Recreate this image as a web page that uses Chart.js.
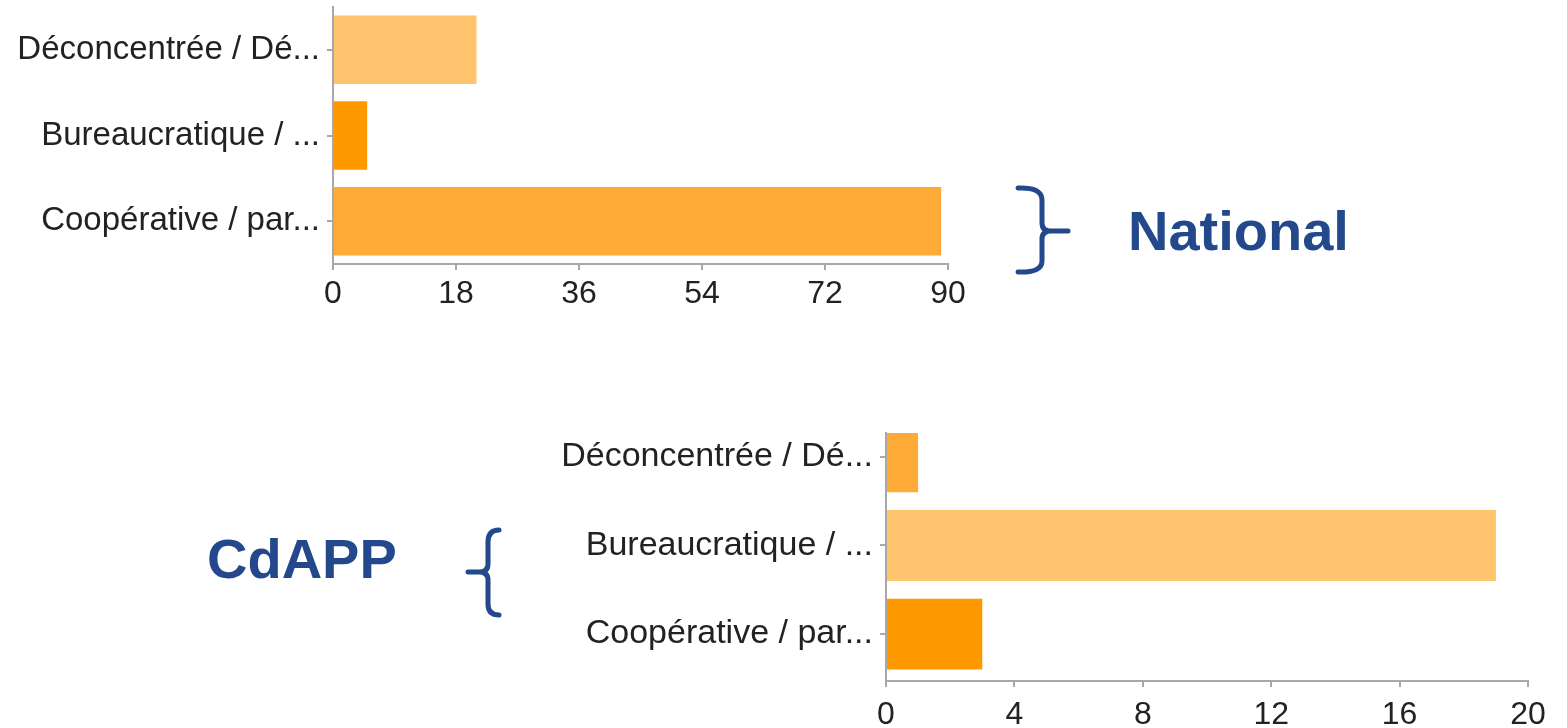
<!DOCTYPE html>
<html>
<head>
<meta charset="utf-8">
<script src="https://cdn.jsdelivr.net/npm/chart.js@4"></script>
<style>
  body { margin: 0; background: #fff; width: 1567px; height: 728px; overflow: hidden; position: relative; }
  canvas { position: absolute; }
  #nationalChart { left: 0; top: 0; }
  #cdappChart { left: 0; top: 400px; }
  .tag { position: absolute; font-family: 'Liberation Sans', Arial, sans-serif; font-weight: bold; font-size: 56px; line-height: 1; color: #24488c; }
  svg { position: absolute; left: 0; top: 0; }
</style>
</head>
<body>
<canvas id="nationalChart" width="1000" height="320"></canvas>
<canvas id="cdappChart" width="1567" height="328"></canvas>
<div class="tag" style="left:1128px; top:203px;">National</div>
<div class="tag" style="left:207px; top:531px;">CdAPP</div>
<svg width="1567" height="728">
  <g fill="none" stroke="#24488c" stroke-width="5" stroke-linecap="round" stroke-linejoin="round">
    <path d="M1018,188 Q1042,187 1042,200 L1042,223 Q1042,231 1051,231 L1068,231 M1051,231 Q1042,231 1042,239 L1042,261 Q1042,273 1018,272"/>
    <path d="M499,530 Q488,530 488,542 L488,564 Q488,572 479,572 L468,572 M479,572 Q488,572 488,580 L488,604 Q488,615 499,615"/>
  </g>
</svg>
<script>
const categories = ['Déconcentrée / Dé...', 'Bureaucratique / ...', 'Coopérative / par...']
const nationalValues = [21, 5, 89]
const cdappValues = [1, 19, 3]
const nationalTicks = [0, 18, 36, 54, 72, 90]
const cdappTicks = [0, 4, 8, 12, 16, 20]
const nationalColors = ['#ffc46e', '#ff9900', '#ffab38']
const cdappColors = ['#ffab38', '#ffc46e', '#ff9900']

const fontFamily = "'Liberation Sans', Arial, Helvetica, sans-serif"
const axisGray = '#a8a8a8'

function valueAxis(ticks, font, pad) {
    return {
        min: ticks[0],
        max: ticks[ticks.length - 1],
        afterBuildTicks: scale => { scale.ticks = ticks.map(v => ({ value: v })) },
        ticks: { color: '#222', font: { family: fontFamily, size: font }, padding: pad, maxRotation: 0 },
        grid: { drawOnChartArea: false, tickLength: 6, color: axisGray, lineWidth: 2 },
        border: { color: axisGray, width: 2 }
    }
}

// fixed label column width, and no extra room for the end labels
function fixWidth(w) {
    return s => { s.width = w; s.paddingTop = 0; s.paddingBottom = 0 }
}

new Chart(document.getElementById('nationalChart'), {
    type: 'bar',
    data: {
        labels: categories,
        datasets: [{
            data: nationalValues,
            backgroundColor: nationalColors,
            categoryPercentage: 0.8,
            barPercentage: 1
        }]
    },
    options: {
        indexAxis: 'y',
        responsive: false,
        animation: false,
        layout: { padding: { top: 7, right: 52 } },
        plugins: { legend: { display: false }, tooltip: { enabled: false } },
        scales: {
            x: Object.assign(valueAxis(nationalTicks, 32, 5), { afterFit: s => { s.height = 56 } }),
            y: {
                afterFit: fixWidth(333),
                ticks: { color: '#222', font: { family: fontFamily, size: 33 }, padding: 7 },
                grid: { offset: false, drawOnChartArea: false, tickLength: 6, color: axisGray, lineWidth: 2 },
                border: { color: axisGray, width: 2 }
            }
        }
    }
})

// y kept linear here so the first bar is cut by the plot top, as in the picture
new Chart(document.getElementById('cdappChart'), {
    type: 'bar',
    data: {
        datasets: [{
            data: cdappValues.map((v, i) => ({ x: v, y: i })),
            backgroundColor: cdappColors,
            categoryPercentage: 0.8,
            barPercentage: 1
        }]
    },
    options: {
        indexAxis: 'y',
        responsive: false,
        animation: false,
        layout: { padding: { top: 33, right: 39 } },
        plugins: { legend: { display: false }, tooltip: { enabled: false } },
        scales: {
            x: Object.assign(valueAxis(cdappTicks, 32, 9), { afterFit: s => { s.height = 47 } }),
            y: {
                type: 'linear',
                reverse: true,
                offset: false,
                min: -0.27,
                max: 2.53,
                afterFit: fixWidth(886),
                afterBuildTicks: scale => { scale.ticks = categories.map((c, i) => ({ value: i })) },
                ticks: { color: '#222', font: { family: fontFamily, size: 34 }, padding: 7, callback: v => categories[v] },
                grid: { offset: false, drawOnChartArea: false, tickLength: 6, color: axisGray, lineWidth: 2 },
                border: { color: axisGray, width: 2 }
            }
        }
    }
})
</script>
</body>
</html>
